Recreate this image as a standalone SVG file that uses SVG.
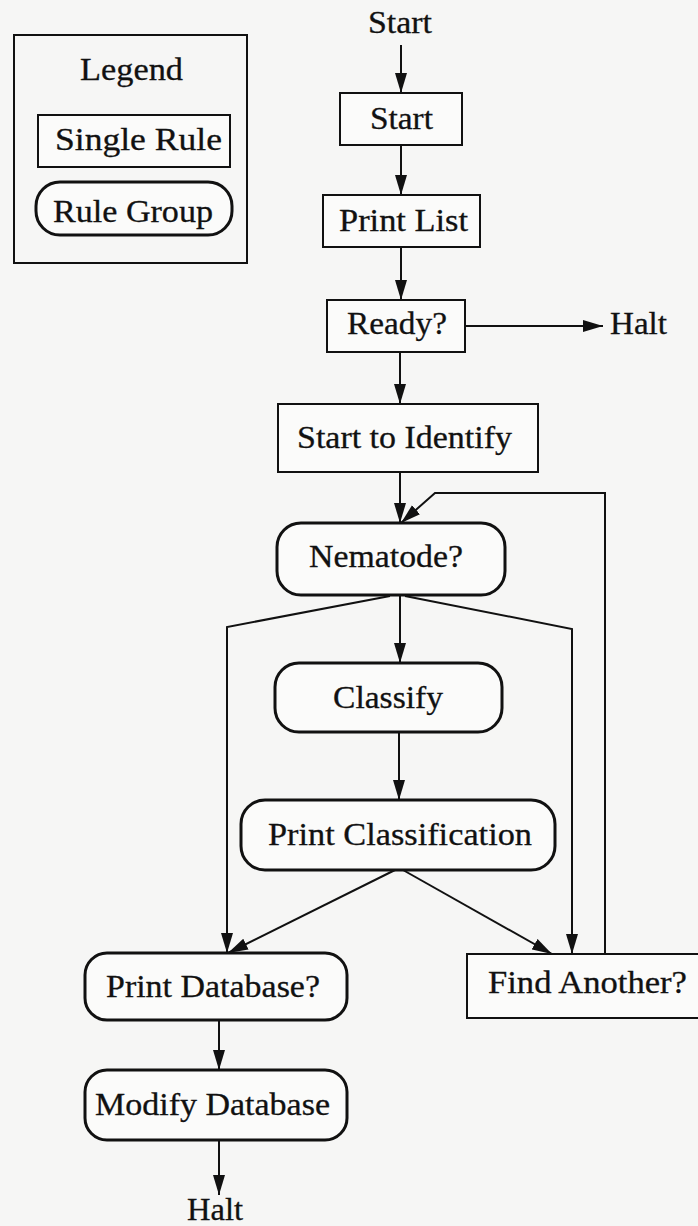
<svg xmlns="http://www.w3.org/2000/svg" width="698" height="1226" viewBox="0 0 698 1226">
  <style>
    .bg { fill: #f6f6f5; }
    .rule { fill: #fbfbfa; stroke: #111; stroke-width: 2; }
    .group { fill: #fbfbfa; stroke: #111; stroke-width: 3; }
    .frame { fill: none; stroke: #111; stroke-width: 2; }
    .edge { fill: none; stroke: #111; stroke-width: 2; }
    .lbl { font-family: "Liberation Serif", "Times New Roman", serif; font-size: 31px; fill: #111; stroke: #111; stroke-width: 0.3; }
  </style>
  <defs>
    <marker id="arrow" markerUnits="userSpaceOnUse" markerWidth="21" markerHeight="13" refX="20" refY="6" orient="auto">
      <path d="M0,0 L20,6 L0,12 z" fill="#111"/>
    </marker>
  </defs>

  <rect class="bg" x="0" y="0" width="698" height="1226"/>

  <!-- legend -->
  <g id="legend">
    <rect class="frame" x="14" y="35" width="233" height="228"/>
    <text class="lbl" x="80" y="80" textLength="103" lengthAdjust="spacingAndGlyphs">Legend</text>
    <rect class="rule" x="38" y="115" width="192" height="52"/>
    <text class="lbl" x="55" y="150" textLength="167" lengthAdjust="spacingAndGlyphs">Single Rule</text>
    <rect class="group" x="36" y="182" width="196" height="53" rx="24" ry="24"/>
    <text class="lbl" x="53" y="222" textLength="160" lengthAdjust="spacingAndGlyphs">Rule Group</text>
  </g>

  <!-- connectors -->
  <g id="connectors">
    <path class="edge" d="M401,45 L401,93" marker-end="url(#arrow)"/>
    <path class="edge" d="M401,145 L401,195" marker-end="url(#arrow)"/>
    <path class="edge" d="M401,247 L401,300" marker-end="url(#arrow)"/>
    <path class="edge" d="M465,326 L603,326" marker-end="url(#arrow)"/>
    <path class="edge" d="M400,352 L400,404" marker-end="url(#arrow)"/>
    <path class="edge" d="M400,472 L400,523" marker-end="url(#arrow)"/>
    <path class="edge" d="M605,954 L605,493 L435,493 L401,523" marker-end="url(#arrow)"/>
    <path class="edge" d="M400,595 L400,663" marker-end="url(#arrow)"/>
    <path class="edge" d="M390,596 L227,627 L227,953" marker-end="url(#arrow)"/>
    <path class="edge" d="M405,596 L572,629 L572,954" marker-end="url(#arrow)"/>
    <path class="edge" d="M399,732 L399,800" marker-end="url(#arrow)"/>
    <path class="edge" d="M395,870 L228,953" marker-end="url(#arrow)"/>
    <path class="edge" d="M403,870 L552,954" marker-end="url(#arrow)"/>
    <path class="edge" d="M219,1020 L219,1070" marker-end="url(#arrow)"/>
    <path class="edge" d="M219,1140 L219,1195" marker-end="url(#arrow)"/>
  </g>

  <!-- terminals -->
  <g id="start-label">
    <text class="lbl" x="368" y="33" textLength="64" lengthAdjust="spacingAndGlyphs">Start</text>
  </g>
  <g id="halt-right">
    <text class="lbl" x="610" y="334" textLength="57" lengthAdjust="spacingAndGlyphs">Halt</text>
  </g>
  <g id="halt-bottom">
    <text class="lbl" x="187" y="1220" textLength="56" lengthAdjust="spacingAndGlyphs">Halt</text>
  </g>

  <!-- single rules -->
  <g id="start">
    <rect class="rule" x="340" y="93" width="122" height="52"/>
    <text class="lbl" x="370" y="129" textLength="63" lengthAdjust="spacingAndGlyphs">Start</text>
  </g>
  <g id="print-list">
    <rect class="rule" x="323" y="195" width="157" height="52"/>
    <text class="lbl" x="339" y="231" textLength="129" lengthAdjust="spacingAndGlyphs">Print List</text>
  </g>
  <g id="ready">
    <rect class="rule" x="327" y="300" width="138" height="52"/>
    <text class="lbl" x="347" y="334" textLength="100" lengthAdjust="spacingAndGlyphs">Ready?</text>
  </g>
  <g id="start-to-identify">
    <rect class="rule" x="278" y="404" width="260" height="68"/>
    <text class="lbl" x="297" y="448" textLength="215" lengthAdjust="spacingAndGlyphs">Start to Identify</text>
  </g>
  <g id="find-another">
    <rect class="rule" x="467" y="954" width="245" height="64"/>
    <text class="lbl" x="488" y="993" textLength="199" lengthAdjust="spacingAndGlyphs">Find Another?</text>
  </g>

  <!-- rule groups -->
  <g id="nematode">
    <rect class="group" x="277" y="523" width="228" height="72" rx="24" ry="24"/>
    <text class="lbl" x="309" y="567" textLength="154" lengthAdjust="spacingAndGlyphs">Nematode?</text>
  </g>
  <g id="classify">
    <rect class="group" x="275" y="663" width="227" height="69" rx="24" ry="24"/>
    <text class="lbl" x="333" y="708" textLength="110" lengthAdjust="spacingAndGlyphs">Classify</text>
  </g>
  <g id="print-classification">
    <rect class="group" x="241" y="800" width="314" height="70" rx="24" ry="24"/>
    <text class="lbl" x="268" y="845" textLength="264" lengthAdjust="spacingAndGlyphs">Print Classification</text>
  </g>
  <g id="print-database">
    <rect class="group" x="85" y="953" width="262" height="67" rx="22" ry="22"/>
    <text class="lbl" x="106" y="997" textLength="214" lengthAdjust="spacingAndGlyphs">Print Database?</text>
  </g>
  <g id="modify-database">
    <rect class="group" x="85" y="1070" width="262" height="70" rx="22" ry="22"/>
    <text class="lbl" x="95" y="1115" textLength="235" lengthAdjust="spacingAndGlyphs">Modify Database</text>
  </g>
</svg>
